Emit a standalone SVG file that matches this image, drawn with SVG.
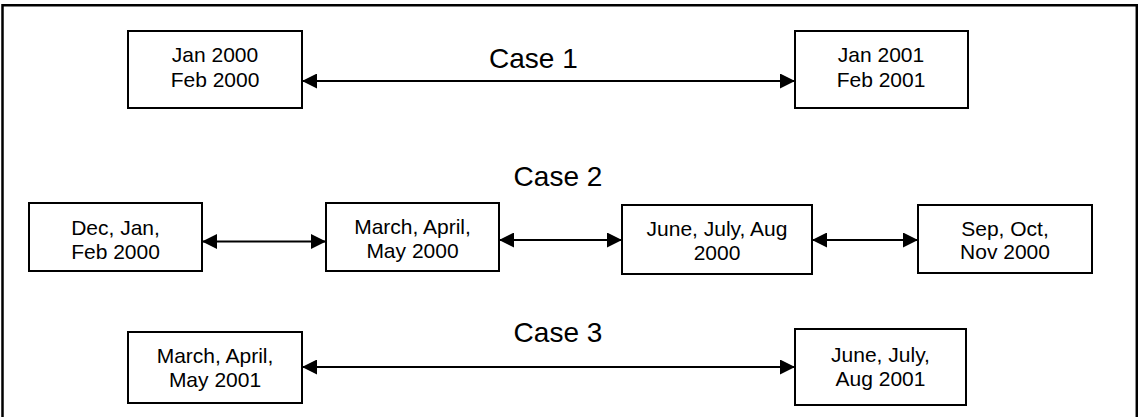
<svg xmlns="http://www.w3.org/2000/svg" width="1138" height="417" viewBox="0 0 1138 417">
<style>
.frame{fill:none;stroke:#000;stroke-width:2.5}
.box{fill:#fff;stroke:#000;stroke-width:2}
.t{font-family:"Liberation Sans",Arial,sans-serif;font-size:21px;fill:#000;text-anchor:middle}
.case{font-family:"Liberation Sans",Arial,sans-serif;font-size:28px;fill:#000}
.conn{stroke:#000;stroke-width:2;fill:none;marker-start:url(#ah);marker-end:url(#ah)}
</style>
<defs>
<marker id="ah" markerUnits="userSpaceOnUse" markerWidth="15" markerHeight="15" refX="15" refY="7.5" orient="auto-start-reverse">
<path d="M0,0 L15,7.5 L0,15 z" fill="#000"/>
</marker>
</defs>
<rect width="1138" height="417" fill="#fff"/>
<path class="frame" d="M2.5,420 L2.5,5.3 L1136.8,5.3 L1136.8,420"/>
<g id="labels">
<text class="case" x="489" y="67.7">Case 1</text>
<text class="case" x="513.6" y="186">Case 2</text>
<text class="case" x="513.6" y="341.7">Case 3</text>
</g>
<g id="connectors">
<line class="conn" x1="302" y1="81" x2="795" y2="81"/>
<line class="conn" x1="202" y1="241.5" x2="326" y2="241.5"/>
<line class="conn" x1="499" y1="240" x2="622" y2="240"/>
<line class="conn" x1="812" y1="240" x2="918" y2="240"/>
<line class="conn" x1="302" y1="367" x2="795" y2="367"/>
</g>
<g id="c1a">
<rect class="box" x="128" y="31" width="174" height="77"/>
<text class="t" x="215" y="61.7">Jan 2000</text>
<text class="t" x="215" y="86.7">Feb 2000</text>
</g>
<g id="c1b">
<rect class="box" x="795" y="31" width="173" height="77"/>
<text class="t" x="881" y="61.7">Jan 2001</text>
<text class="t" x="881" y="86.7">Feb 2001</text>
</g>
<g id="c2a">
<rect class="box" x="29" y="203" width="173" height="68"/>
<text class="t" x="115.5" y="235">Dec, Jan,</text>
<text class="t" x="115.5" y="259">Feb 2000</text>
</g>
<g id="c2b">
<rect class="box" x="326" y="203" width="173" height="68"/>
<text class="t" x="412.5" y="234.3">March, April,</text>
<text class="t" x="412.5" y="258.3">May 2000</text>
</g>
<g id="c2c">
<rect class="box" x="622" y="205" width="190" height="69"/>
<text class="t" x="717" y="235.7">June, July, Aug</text>
<text class="t" x="717" y="260">2000</text>
</g>
<g id="c2d">
<rect class="box" x="918" y="205" width="174" height="68"/>
<text class="t" x="1005" y="235.7">Sep, Oct,</text>
<text class="t" x="1005" y="259.3">Nov 2000</text>
</g>
<g id="c3a">
<rect class="box" x="128" y="332" width="174" height="71"/>
<text class="t" x="215" y="362.5">March, April,</text>
<text class="t" x="215" y="386.5">May 2001</text>
</g>
<g id="c3b">
<rect class="box" x="795" y="329" width="171" height="76"/>
<text class="t" x="880.5" y="361.8">June, July,</text>
<text class="t" x="880.5" y="385.5">Aug 2001</text>
</g>
</svg>
